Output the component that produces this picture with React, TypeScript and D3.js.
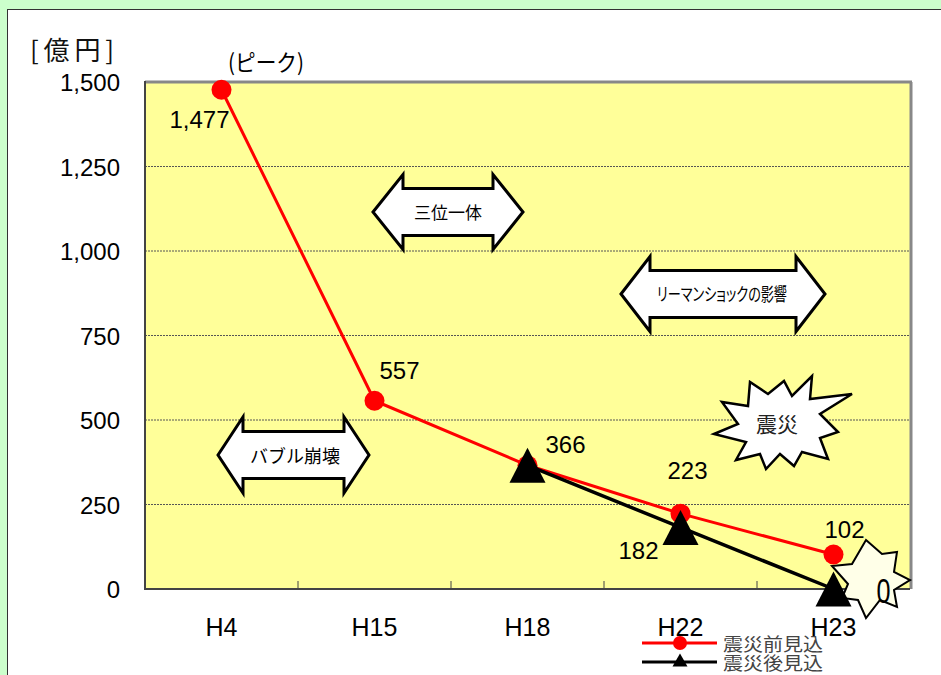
import React from "react";
import * as d3 from "d3";

const categories = ["H4", "H15", "H18", "H22", "H23"];
const beforeValues: (number | null)[] = [1477, 557, 366, 223, 102];
const afterValues: (number | null)[] = [null, null, 366, 182, 0];
const beforeLabels = ["1,477", "557", "366", "223", "102"];
const afterLabels = ["", "", "", "182", "0"];
const yTicks = [0, 250, 500, 750, 1000, 1250, 1500];
const seriesNames = ["震災前見込", "震災後見込"];

const NUM_FONT = "'Liberation Sans', Arial, sans-serif";
const JP_FONT = "'Noto Sans CJK JP', 'Noto Sans', sans-serif";

function doubleArrow(xl: number, xr: number, cy: number, headLen: number, outer: number, shaft: number) {
  return [
    [xl, cy],
    [xl + headLen, cy - outer],
    [xl + headLen, cy - shaft],
    [xr - headLen, cy - shaft],
    [xr - headLen, cy - outer],
    [xr, cy],
    [xr - headLen, cy + outer],
    [xr - headLen, cy + shaft],
    [xl + headLen, cy + shaft],
    [xl + headLen, cy + outer],
  ]
    .map((p, i) => (i === 0 ? "M" : "L") + p[0] + "," + p[1])
    .join(" ") + " Z";
}

function polyPath(pts: number[][]) {
  return pts.map((p, i) => (i === 0 ? "M" : "L") + p[0] + "," + p[1]).join(" ") + " Z";
}

// burst outline for 震災 (relative to centre)
const burst1: number[][] = [
  [-66, 10], [-42, 0], [-58, -22], [-32, -18], [-30, -42], [-12, -30], [4, -43],
  [12, -28], [32, -48], [30, -25], [72, -30], [40, -10], [58, 8], [40, 14],
  [48, 35], [22, 28], [14, 42], [0, 30], [-14, 45], [-20, 30], [-44, 36], [-34, 18],
];
const burst2: number[][] = [
  [-4, -38], [12, -24], [27, -26], [24, -6], [40, 2], [24, 12], [27, 29],
  [10, 22], [-4, 40], [-12, 22], [-28, 20], [-22, 6], [-38, -12], [-18, -14],
];

export default function App() {
  const W = 941;
  const H = 675;
  const left = 145, right = 910, top = 82, bottom = 589;
  const x = d3.scaleBand<string>().domain(categories).range([left, right]);
  const y = d3.scaleLinear().domain([0, 1500]).range([bottom, top]);
  const cx = (c: string) => (x(c) as number) + x.bandwidth() / 2;
  const fmt = d3.format(",");

  const line = d3
    .line<[string, number | null]>()
    .defined((d) => d[1] !== null)
    .x((d) => cx(d[0]))
    .y((d) => y(d[1] as number));

  const before = categories.map((c, i) => [c, beforeValues[i]] as [string, number | null]);
  const after = categories.map((c, i) => [c, afterValues[i]] as [string, number | null]);

  const tri = (px: number, py: number, w: number, h: number) =>
    `M${px},${py - h / 2} L${px + w / 2},${py + h / 2} L${px - w / 2},${py + h / 2} Z`;

  const beforeLabelPos = [
    [-22, 38], [25, -22], [38, -12], [7, -35], [11, -17],
  ];
  const afterLabelPos = [
    [0, 0], [0, 0], [0, 0], [-42, 32], [50, 14],
  ];

  const b1c = [780, 424];
  const b2c = [870, 578];

  return (
    <svg width={W} height={H} style={{ position: "absolute", left: 0, top: 0, display: "block" }}>
      <rect x={0} y={0} width={W} height={H} fill="#CCFFCC" />
      <rect x={7.5} y={9.5} width={W} height={H} fill="#FFFFFF" stroke="#333" strokeWidth={1} />

      {/* plot area */}
      <rect x={left} y={top} width={right - left} height={bottom - top} fill="#FFFF99" />
      {yTicks
        .filter((t) => t > 0 && t < 1500)
        .map((t) => (
          <line key={t} x1={left} x2={right} y1={y(t)} y2={y(t)} stroke="#555" strokeWidth={1} strokeDasharray="2,1" />
        ))}
      <line x1={left} x2={right + 2} y1={top} y2={top} stroke="#888" strokeWidth={3} />
      <line x1={right + 1} x2={right + 1} y1={top} y2={bottom} stroke="#888" strokeWidth={3} />
      <line x1={left} x2={left} y1={top - 1} y2={bottom + 1} stroke="#444" strokeWidth={2} />
      <line x1={left - 1} x2={right} y1={bottom} y2={bottom} stroke="#444" strokeWidth={2} />
      {categories.slice(1).map((c) => (
        <line key={c} x1={x(c)} x2={x(c)} y1={bottom} y2={bottom - 8} stroke="#444" strokeWidth={1} />
      ))}

      {/* y axis labels */}
      {yTicks.map((t) => (
        <text key={t} x={120} y={y(t) + 9} textAnchor="end" fontFamily={NUM_FONT} fontSize={24} fill="#000">
          {fmt(t)}
        </text>
      ))}
      <text x={30} y={60} fontFamily={JP_FONT} fontSize={26} fill="#111" textLength={84} lengthAdjust="spacing">
        [億円]
      </text>

      {/* x axis labels */}
      {categories.map((c) => (
        <text key={c} x={cx(c)} y={636} textAnchor="middle" fontFamily={NUM_FONT} fontSize={25} fill="#000">
          {c}
        </text>
      ))}

      {/* annotations: arrows */}
      <path d={doubleArrow(373, 523, 212, 30, 37.5, 23.5)} fill="#fff" stroke="#000" strokeWidth={3} strokeLinejoin="miter" />
      <text x={448} y={219} textAnchor="middle" fontFamily={JP_FONT} fontSize={17} fill="#000">三位一体</text>
      <path d={doubleArrow(621, 825, 294, 29, 37.5, 23.5)} fill="#fff" stroke="#000" strokeWidth={3} />
      <text x={722} y={301} textAnchor="middle" fontFamily={JP_FONT} fontSize={18} fill="#000" style={{ fontFeatureSettings: "'palt'" }} textLength={130} lengthAdjust="spacingAndGlyphs">リーマンショックの影響</text>
      <path d={doubleArrow(218, 369, 455, 25, 38, 23.5)} fill="#fff" stroke="#000" strokeWidth={3} />
      <text x={295} y={463} textAnchor="middle" fontFamily={JP_FONT} fontSize={18} fill="#000">バブル崩壊</text>

      {/* bursts */}
      <path d={polyPath(burst1.map((p) => [b1c[0] + p[0], b1c[1] + p[1]]))} fill="#fff" stroke="#000" strokeWidth={2.5} />
      <text x={777} y={432} textAnchor="middle" fontFamily={JP_FONT} fontSize={21} fill="#222">震災</text>
      <path d={polyPath(burst2.map((p) => [b2c[0] + p[0], b2c[1] + p[1]]))} fill="#FFFFE8" stroke="#000" strokeWidth={2} />

      {/* series lines */}
      <path d={line(before) as string} fill="none" stroke="#FF0000" strokeWidth={3} />
      <path d={line(after) as string} fill="none" stroke="#000" strokeWidth={3.5} />
      {before.map((d) =>
        d[1] === null ? null : <circle key={d[0]} cx={cx(d[0])} cy={y(d[1])} r={10} fill="#FF0000" />
      )}
      {after.map((d) =>
        d[1] === null ? null : <path key={d[0]} d={tri(cx(d[0]), y(d[1]), 36, 35)} fill="#000" />
      )}

      {/* data labels */}
      {before.map((d, i) =>
        d[1] === null ? null : (
          <text key={d[0]} x={cx(d[0]) + beforeLabelPos[i][0]} y={y(d[1]) + beforeLabelPos[i][1]} textAnchor="middle" fontFamily={NUM_FONT} fontSize={24} fill="#000">
            {beforeLabels[i]}
          </text>
        )
      )}
      {after.map((d, i) =>
        d[1] === null || afterLabels[i] === "" ? null : i === 4 ? (
          <text key={d[0]} x={cx(d[0]) + afterLabelPos[i][0]} y={y(d[1]) + afterLabelPos[i][1]} textAnchor="middle" fontFamily={NUM_FONT} fontSize={36} fill="#000" transform={`translate(${(cx(d[0]) + afterLabelPos[i][0]) * 0.3},0) scale(0.7,1)`}>
            {afterLabels[i]}
          </text>
        ) : (
          <text key={d[0]} x={cx(d[0]) + afterLabelPos[i][0]} y={y(d[1]) + afterLabelPos[i][1]} textAnchor="middle" fontFamily={NUM_FONT} fontSize={24} fill="#000">
            {afterLabels[i]}
          </text>
        )
      )}
      <text x={266} y={71} textAnchor="middle" fontFamily={JP_FONT} fontSize={23} fill="#000" textLength={76} lengthAdjust="spacingAndGlyphs">(ピーク)</text>

      {/* legend */}
      <line x1={642} x2={717} y1={643} y2={643} stroke="#FF0000" strokeWidth={3} />
      <circle cx={680} cy={643} r={7} fill="#FF0000" />
      <text x={723} y={651} fontFamily={JP_FONT} fontSize={18} fill="#444" textLength={100} lengthAdjust="spacingAndGlyphs">{seriesNames[0]}</text>
      <line x1={642} x2={717} y1={662} y2={662} stroke="#000" strokeWidth={3} />
      <path d={tri(680, 660, 15, 13)} fill="#000" />
      <text x={723} y={670} fontFamily={JP_FONT} fontSize={18} fill="#444" textLength={100} lengthAdjust="spacingAndGlyphs">{seriesNames[1]}</text>
    </svg>
  );
}
